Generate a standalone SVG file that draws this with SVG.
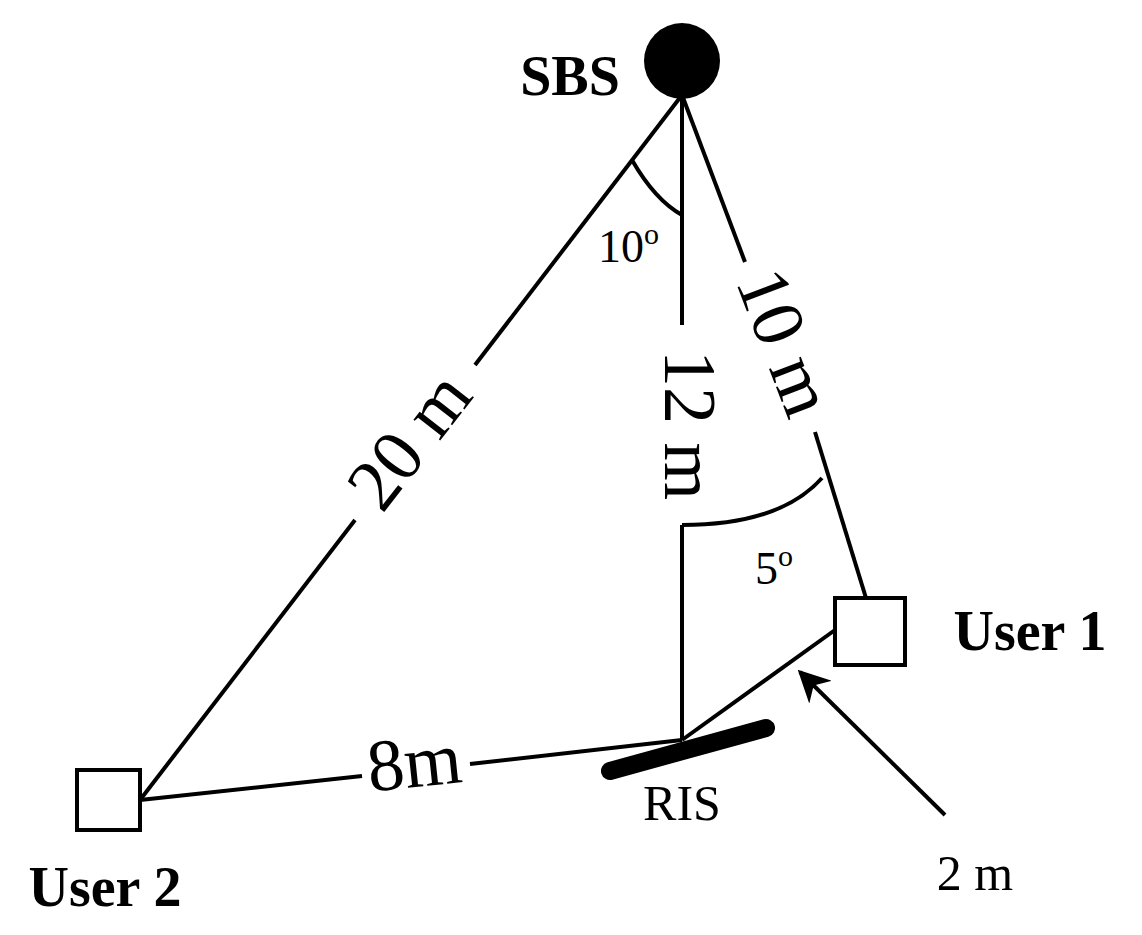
<svg xmlns="http://www.w3.org/2000/svg" width="1142" height="935" viewBox="0 0 1142 935">
<defs><marker id="ah" viewBox="0 0 10 10" refX="9" refY="5" markerWidth="8" markerHeight="8" orient="auto"><path d="M0,0L10,5L0,10L3,5z" fill="#000"/></marker></defs>
<style>.l{stroke:#000;stroke-width:4;fill:none}.t{font-family:"Liberation Serif",serif;fill:#000}.b{font-weight:bold;font-size:56px}</style>
<rect width="1142" height="935" fill="#fff"/>
<g id="connectors">
<line class="l" x1="682" y1="95" x2="682" y2="325"/><line class="l" x1="682" y1="525" x2="682" y2="740"/>
<line class="l" x1="682" y1="95" x2="745" y2="262"/><line class="l" x1="815" y1="432" x2="866" y2="598"/>
<line class="l" x1="682" y1="95" x2="475" y2="365"/><line class="l" x1="355" y1="520" x2="140" y2="800"/>
<line class="l" x1="140" y1="800" x2="362" y2="776"/><line class="l" x1="470" y1="764" x2="682" y2="740"/>
<line class="l" x1="682" y1="740" x2="835" y2="630"/>
<line class="l" x1="945" y1="815" x2="800" y2="672" marker-end="url(#ah)"/>
<path class="l" d="M632,160 Q655,200 682,215"/>
<path class="l" d="M682,525 Q780,525 822,478"/>
<text class="t" x="682" y="425" font-size="74" text-anchor="middle" dominant-baseline="middle" transform="rotate(90 682 425)">12 m</text>
<text class="t" x="778" y="345" font-size="74" text-anchor="middle" dominant-baseline="middle" transform="rotate(69 778 345)">10 m</text>
<text class="t" x="415" y="445" font-size="74" text-anchor="middle" dominant-baseline="middle" transform="rotate(-52 415 445)">20 m</text>
<text class="t" x="415" y="770" font-size="74" text-anchor="middle" dominant-baseline="middle" transform="rotate(-6 415 770)">8m</text>
<text class="t" x="598" y="262" font-size="46">10<tspan font-size="30" dy="-18">o</tspan></text>
<text class="t" x="755" y="584" font-size="46">5<tspan font-size="30" dy="-18">o</tspan></text>
</g>
<g id="sbs"><circle cx="682" cy="61" r="38" fill="#000"/><text class="t b" x="570" y="95" text-anchor="middle">SBS</text></g>
<g id="user1"><rect x="835" y="598" width="70" height="67" fill="#fff" stroke="#000" stroke-width="4"/><text class="t b" x="1030" y="650" text-anchor="middle">User 1</text></g>
<g id="user2"><rect x="77" y="770" width="63" height="60" fill="#fff" stroke="#000" stroke-width="4"/><text class="t b" x="105" y="906" text-anchor="middle">User 2</text></g>
<g id="ris"><line x1="610" y1="771" x2="766" y2="728" stroke="#000" stroke-width="18" stroke-linecap="round"/><text class="t" x="682" y="820" font-size="50" text-anchor="middle">RIS</text></g>
<text class="t" x="975" y="890" font-size="50" text-anchor="middle">2 m</text>
</svg>
